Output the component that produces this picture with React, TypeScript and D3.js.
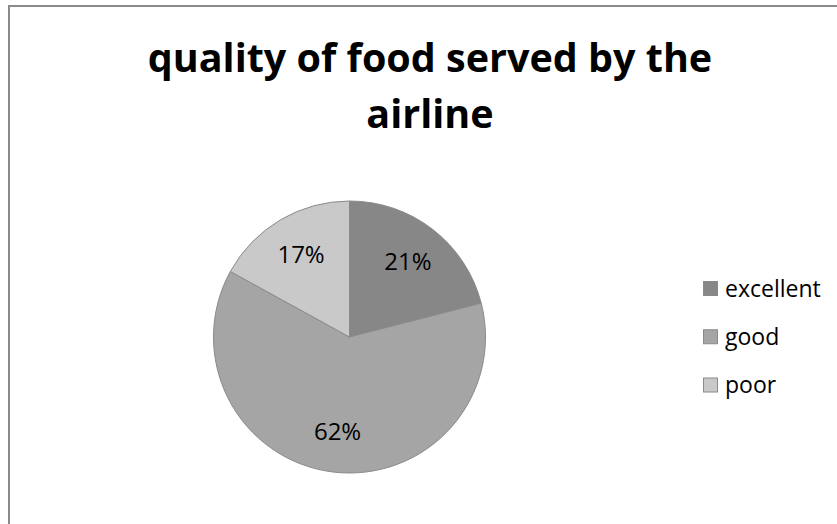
import React from "react";
import * as d3 from "d3";

const categories = ["excellent", "good", "poor"];
const values = [21, 62, 17];
const colors = ["#878787", "#a5a5a5", "#c9c9c9"];
const titleLines = ["quality of food served by the", "airline"];

const W = 837;
const H = 524;
const FONT = "'Open Sans', 'DejaVu Sans', sans-serif";

export default function App() {
  const cx = 349.5;
  const cy = 337;
  const r = 136;

  const pie = d3
    .pie<number>()
    .sort(null)
    .value((d) => d)
    .startAngle(0)
    .endAngle(2 * Math.PI);
  const arcs = pie(values);
  const arcGen = d3.arc<d3.PieArcDatum<number>>().innerRadius(0).outerRadius(r);
  const labelArc = d3
    .arc<d3.PieArcDatum<number>>()
    .innerRadius(r * 0.7)
    .outerRadius(r * 0.7);
  const total = d3.sum(values);
  const fmt = (v: number) => `${Math.round((v / total) * 100)}%`;

  const legendY = d3
    .scalePoint<string>()
    .domain(categories)
    .range([288.5, 385]);

  return (
    <svg
      width={W}
      height={H}
      style={{ position: "fixed", left: 0, top: 0, background: "#fff" }}
    >
      <rect x={0} y={0} width={W} height={H} fill="#fff" />
      <rect
        x={9}
        y={6}
        width={W + 50}
        height={H + 50}
        fill="#fff"
        stroke="#8a8a8a"
        strokeWidth={2}
      />
      <g fontFamily={FONT} fontWeight="bold" fill="#000" textAnchor="middle">
        {titleLines.map((t, i) => (
          <text key={i} x={430} y={72 + i * 56} fontSize={39.5}>
            {t}
          </text>
        ))}
      </g>
      <g transform={`translate(${cx},${cy})`}>
        {arcs.map((a, i) => (
          <path
            key={i}
            d={arcGen(a) || ""}
            fill={colors[i]}
            stroke="#8a8a8a"
            strokeWidth={1}
          />
        ))}
        {arcs.map((a, i) => {
          const [lx, ly] = labelArc.centroid(a);
          return (
            <text
              key={"l" + i}
              x={lx}
              y={ly}
              dy="0.35em"
              textAnchor="middle"
              fontFamily={FONT}
              fontSize={24}
              fill="#000"
            >
              {fmt(values[i])}
            </text>
          );
        })}
      </g>
      <g fontFamily={FONT} fontSize={23} fill="#000">
        {categories.map((c, i) => {
          const y = legendY(c) as number;
          return (
            <g key={c}>
              <rect
                x={703.5}
                y={y - 7}
                width={14}
                height={14}
                fill={colors[i]}
                stroke="#8a8a8a"
                strokeWidth={1}
              />
              <text x={725} y={y} dy="0.35em">
                {c}
              </text>
            </g>
          );
        })}
      </g>
    </svg>
  );
}
